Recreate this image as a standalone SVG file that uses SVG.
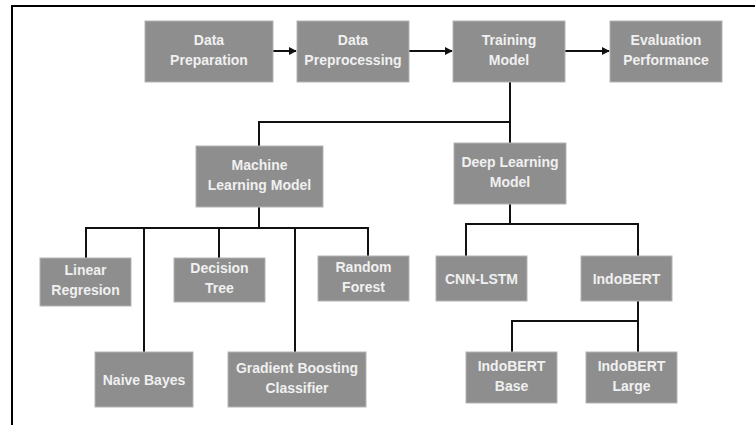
<svg xmlns="http://www.w3.org/2000/svg" width="755" height="425" viewBox="0 0 755 425">
<style>
.box{fill:#8e8e8e;stroke:#b4b4b4;stroke-width:1}
.lbl{font-family:"Liberation Sans",Arial,sans-serif;font-weight:bold;font-size:14px;fill:#f0f0f0;text-anchor:middle}
.ln{fill:none;stroke:#111;stroke-width:2}
.frame{fill:none;stroke:#000;stroke-width:2}
</style>
<defs>
<marker id="ah" viewBox="0 0 10 10" refX="9" refY="5" markerWidth="8" markerHeight="8" markerUnits="userSpaceOnUse" orient="auto">
<path d="M0,0 L10,5 L0,10 z" fill="#111"/>
</marker>
</defs>
<rect width="755" height="425" fill="#fff"/>
<path class="frame" d="M12,425 V6 H755"/>
<g id="connectors">
<line class="ln" x1="273" y1="51" x2="296" y2="51" marker-end="url(#ah)"/>
<line class="ln" x1="409" y1="51" x2="452" y2="51" marker-end="url(#ah)"/>
<line class="ln" x1="565" y1="51" x2="609" y2="51" marker-end="url(#ah)"/>
<path class="ln" d="M510,82 V143"/>
<path class="ln" d="M510,122 H259 V146"/>
<path class="ln" d="M259,207 V228"/>
<path class="ln" d="M86,258 V228 H368 V256"/>
<path class="ln" d="M144,228 V352"/>
<path class="ln" d="M219,228 V258"/>
<path class="ln" d="M295,228 V352"/>
<path class="ln" d="M510,204 V224"/>
<path class="ln" d="M466,256 V224 H638 V256"/>
<path class="ln" d="M638,301 V352"/>
<path class="ln" d="M638,321 H512 V352"/>
</g>
<g id="data-preparation"><rect class="box" x="145" y="21" width="128" height="61"/><text class="lbl" x="209" y="44.5">Data</text><text class="lbl" x="209" y="64.5">Preparation</text></g>
<g id="data-preprocessing"><rect class="box" x="297" y="21" width="112" height="61"/><text class="lbl" x="353" y="44.5">Data</text><text class="lbl" x="353" y="64.5">Preprocessing</text></g>
<g id="training-model"><rect class="box" x="453" y="21" width="112" height="61"/><text class="lbl" x="509" y="44.5">Training</text><text class="lbl" x="509" y="64.5">Model</text></g>
<g id="evaluation-performance"><rect class="box" x="610" y="21" width="112" height="61"/><text class="lbl" x="666" y="44.5">Evaluation</text><text class="lbl" x="666" y="64.5">Performance</text></g>
<g id="machine-learning-model"><rect class="box" x="196" y="146" width="127" height="61"/><text class="lbl" x="259.5" y="169.5">Machine</text><text class="lbl" x="259.5" y="189.5">Learning Model</text></g>
<g id="deep-learning-model"><rect class="box" x="454" y="143" width="112" height="61"/><text class="lbl" x="510" y="167">Deep Learning</text><text class="lbl" x="510" y="187">Model</text></g>
<g id="linear-regresion"><rect class="box" x="40" y="258" width="91" height="48"/><text class="lbl" x="85.5" y="275">Linear</text><text class="lbl" x="85.5" y="295">Regresion</text></g>
<g id="decision-tree"><rect class="box" x="174" y="258" width="91" height="44"/><text class="lbl" x="219.5" y="273">Decision</text><text class="lbl" x="219.5" y="293">Tree</text></g>
<g id="random-forest"><rect class="box" x="318" y="256" width="91" height="45"/><text class="lbl" x="363.5" y="271.5">Random</text><text class="lbl" x="363.5" y="291.5">Forest</text></g>
<g id="naive-bayes"><rect class="box" x="95" y="352" width="98" height="55"/><text class="lbl" x="144" y="384.5">Naive Bayes</text></g>
<g id="gradient-boosting-classifier"><rect class="box" x="228" y="352" width="138" height="55"/><text class="lbl" x="297" y="373">Gradient Boosting</text><text class="lbl" x="297" y="393">Classifier</text></g>
<g id="cnn-lstm"><rect class="box" x="436" y="256" width="91" height="45"/><text class="lbl" x="481.5" y="283.5">CNN-LSTM</text></g>
<g id="indobert"><rect class="box" x="581" y="256" width="91" height="45"/><text class="lbl" x="626.5" y="283.5">IndoBERT</text></g>
<g id="indobert-base"><rect class="box" x="466" y="352" width="91" height="51"/><text class="lbl" x="511.5" y="370.5">IndoBERT</text><text class="lbl" x="511.5" y="390.5">Base</text></g>
<g id="indobert-large"><rect class="box" x="586" y="352" width="91" height="51"/><text class="lbl" x="631.5" y="370.5">IndoBERT</text><text class="lbl" x="631.5" y="390.5">Large</text></g>
</svg>
